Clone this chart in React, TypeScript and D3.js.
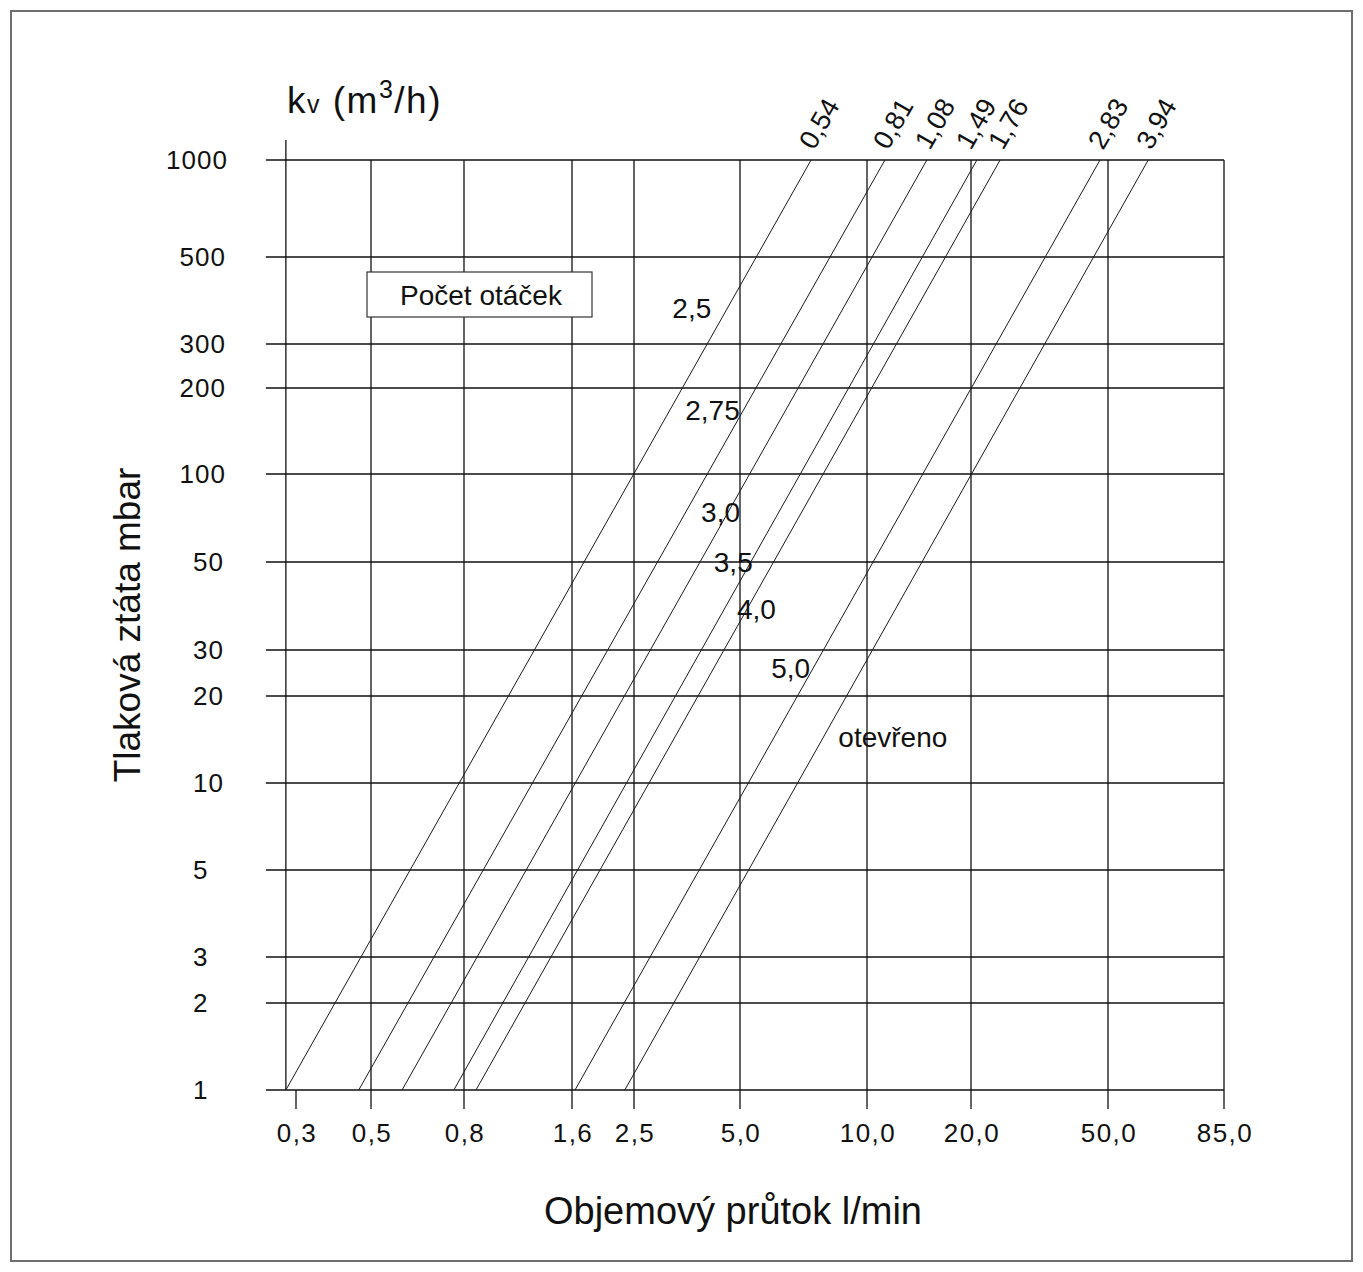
import React from "react";
import * as d3 from "d3";

// ---- data ----
const xTickValues = [0.3, 0.5, 0.8, 1.6, 2.5, 5, 10, 20, 50, 85];
const xTickLabels = ["0,3", "0,5", "0,8", "1,6", "2,5", "5,0", "10,0", "20,0", "50,0", "85,0"];
const yTickValues = [1, 2, 3, 5, 10, 20, 30, 50, 100, 200, 300, 500, 1000];
const yTickLabels = ["1", "2", "3", "5", "10", "20", "30", "50", "100", "200", "300", "500", "1000"];
const flowMin = 0.28; // left end of the flow axis (l/min)

const kvLabels = ["0,54", "0,81", "1,08", "1,49", "1,76", "2,83", "3,94"];
const turnLabels = ["2,5", "2,75", "3,0", "3,5", "4,0", "5,0", "otevřeno"];
// flow (l/min) of each line at 1 mbar and at 1000 mbar
const flowAt1mbar = [0.28, 0.46, 0.585, 0.76, 0.864, 1.635, 2.34];
const flowAt1000mbar = [7.37, 11.27, 14.9, 20.8, 24.3, 47.4, 60.1];
// pressure (mbar) at which each turn label sits along its line
const labelPressure = [370, 167, 74, 50, 38, 25.6, 14.4];

export default function App() {
  const W = 1363;
  const H = 1272;
  const font = "'Liberation Sans', Arial, Helvetica, sans-serif";
  const ink = "#111";

  // non-uniform log scales (hand-drawn nomogram spacing)
  const xScale = d3
    .scaleLog()
    .domain(xTickValues)
    .range([296, 371, 464, 572, 634, 740, 867, 971, 1108, 1224]);
  const yScale = d3
    .scaleLog()
    .domain(yTickValues)
    .range([1090, 1003, 957, 870, 783, 696, 650, 562, 474, 388, 344, 257, 160]);

  const xLeft = xScale(flowMin);
  const xRight = xScale(85);
  const yBottom = yScale(1);
  const yTop = yScale(1000);

  const line = d3.line<[number, number]>();

  const lines = flowAt1mbar.map((q1, i) => {
    const p0: [number, number] = [xScale(q1), yScale(1)];
    const p1: [number, number] = [xScale(flowAt1000mbar[i]), yScale(1000)];
    return { p0, p1, d: line([p0, p1]) as string };
  });

  const labelDx = [-55, -58, -27, -37, -10, -42, 15];
  const kvDx = [3, 3, 3, -6, 3, 3, 3];

  const lineXAt = (i: number, py: number) => {
    const { p0, p1 } = lines[i];
    return p0[0] + ((p1[0] - p0[0]) * (py - p0[1])) / (p1[1] - p0[1]);
  };

  return (
    <div style={{ position: "absolute", left: 0, top: 0 }}>
      <svg width={W} height={H} style={{ display: "block", background: "#fff" }} fontFamily={font}>
        <rect x={11} y={11} width={W - 22} height={H - 22} fill="#fff" stroke="#6e6e6e" strokeWidth={2} />

        {/* horizontal grid lines */}
        {yTickValues.map((v) => (
          <line key={"h" + v} x1={xLeft - 20} x2={xRight} y1={yScale(v)} y2={yScale(v)} stroke={ink} strokeWidth={1.3} />
        ))}
        {/* vertical grid lines */}
        {xTickValues.map((v, i) =>
          i === 0 ? (
            <line key={"v" + v} x1={xScale(v)} x2={xScale(v)} y1={yBottom} y2={yBottom + 19} stroke={ink} strokeWidth={1.3} />
          ) : (
            <line key={"v" + v} x1={xScale(v)} x2={xScale(v)} y1={yTop} y2={yBottom + 19} stroke={ink} strokeWidth={1.3} />
          )
        )}
        {/* left axis */}
        <line x1={xLeft} x2={xLeft} y1={yTop - 20} y2={yBottom} stroke={ink} strokeWidth={1.3} />

        {/* kv lines */}
        {lines.map((l, i) => (
          <path key={"l" + i} d={l.d} fill="none" stroke="#1a1a1a" strokeWidth={1} />
        ))}

        {/* legend box */}
        <rect x={367} y={272} width={225} height={45} fill="#fff" stroke="#333" strokeWidth={1.2} />
        <text x={400} y={305} fontSize={28} fill={ink}>
          Počet otáček
        </text>

        {/* y tick labels */}
        {yTickValues.map((v, i) => {
          const digits = yTickLabels[i].length;
          return (
            <text
              key={"yl" + v}
              x={193 - Math.max(0, digits - 2) * 13.5}
              y={yScale(v) + 9}
              fontSize={26}
              letterSpacing={1}
              fill={ink}
            >
              {yTickLabels[i]}
            </text>
          );
        })}

        {/* x tick labels */}
        {xTickValues.map((v, i) => (
          <text key={"xl" + v} x={xScale(v) + 1} y={1142} fontSize={26} letterSpacing={1.5} textAnchor="middle" fill={ink}>
            {xTickLabels[i]}
          </text>
        ))}

        {/* kv labels at top, rotated */}
        {lines.map((l, i) => (
          <text
            key={"kv" + i}
            transform={`translate(${l.p1[0] + kvDx[i]},${l.p1[1] - 9}) rotate(-60)`}
            fontSize={27}
            fill={ink}
          >
            {kvLabels[i]}
          </text>
        ))}

        {/* turn labels */}
        {turnLabels.map((t, i) => {
          const py = yScale(labelPressure[i]);
          return (
            <text key={"t" + i} x={lineXAt(i, py) + labelDx[i]} y={py + 10} fontSize={28} fill={ink}>
              {t}
            </text>
          );
        })}

        {/* kv title */}
        <text x={287} y={113} fontSize={37} letterSpacing={1.5} fill={ink}>
          k<tspan fontSize={25}>v</tspan> (m<tspan fontSize={25} dy={-15}>3</tspan>
          <tspan dy={15}>/h)</tspan>
        </text>

        {/* axis titles */}
        <text transform={`translate(140,625) rotate(-90)`} fontSize={37} textAnchor="middle" fill={ink}>
          Tlaková ztáta mbar
        </text>
        <text x={733} y={1224} fontSize={38} textAnchor="middle" fill={ink}>
          Objemový průtok l/min
        </text>
      </svg>
    </div>
  );
}
